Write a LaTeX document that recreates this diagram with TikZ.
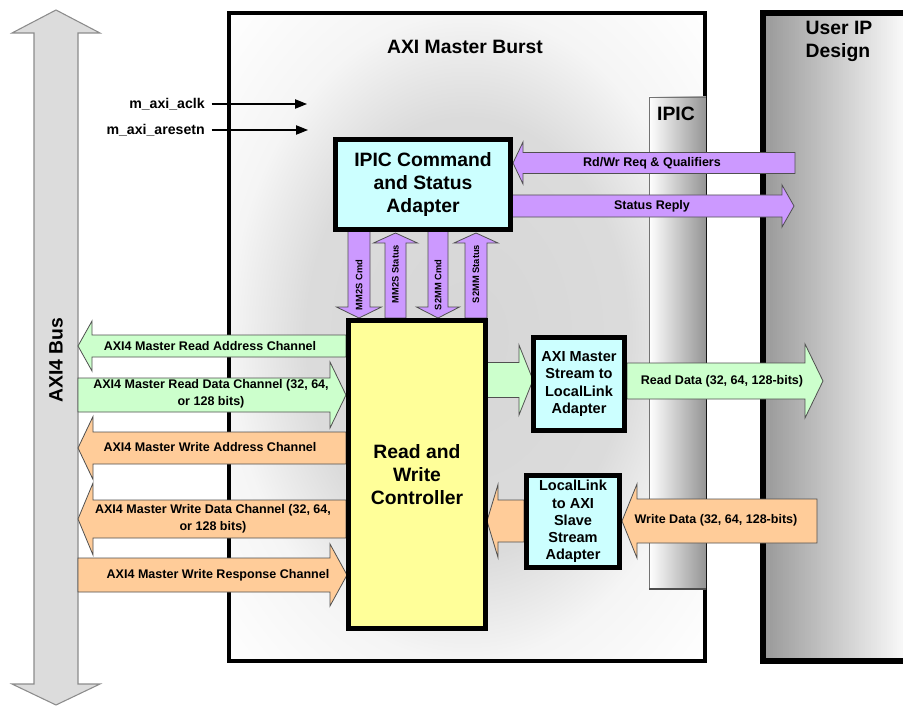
\documentclass[tikz,border=0pt]{standalone}
\usepackage{fontspec}
\setmainfont{Liberation Sans}
\usetikzlibrary{arrows.meta}

\definecolor{cyanbox}{HTML}{CCFFFF}
\definecolor{yelbox}{HTML}{FFFF99}
\definecolor{grn}{HTML}{CCFFCC}
\definecolor{org}{HTML}{FFCC99}
\definecolor{purp}{HTML}{CC99FF}
\definecolor{busgray}{HTML}{DCDCDC}
\definecolor{edgegray}{HTML}{505050}

\pgfdeclareradialshading{burstshade}{\pgfpoint{0bp}{0bp}}{color(0bp)=(black!16); color(17bp)=(black!14); color(25bp)=(black!4); color(36bp)=(white); color(50bp)=(white)}

% horizontal fat arrow: #1 fill, #2 tail x, #3 tip x, #4 y, #5 shaft half, #6 head half, #7 signed head length
\newcommand\fatH[7]{%
  \filldraw[fatline, fill=#1] ({#2},{#4-#5}) -- ({#3-(#7)},{#4-#5}) -- ({#3-(#7)},{#4-#6}) -- ({#3},{#4})
    -- ({#3-(#7)},{#4+#6}) -- ({#3-(#7)},{#4+#5}) -- ({#2},{#4+#5}) -- cycle;}
% vertical fat arrow: #1 fill, #2 x, #3 tail y, #4 tip y, #5 shaft half, #6 head half, #7 signed head length
\newcommand\fatV[7]{%
  \filldraw[fatline, fill=#1] ({#2-#5},{#3}) -- ({#2-#5},{#4-(#7)}) -- ({#2-#6},{#4-(#7)}) -- ({#2},{#4})
    -- ({#2+#6},{#4-(#7)}) -- ({#2+#5},{#4-(#7)}) -- ({#2+#5},{#3}) -- cycle;}

\tikzset{
  fatline/.style={draw=edgegray, line width=0.6pt, line join=miter},
  boxborder/.style={draw=black, line width=3.4pt},
  cbox/.style={boxborder, fill=cyanbox, align=center, inner sep=0pt, font=\bfseries\fontsize{10.9}{12.9}\selectfont},
  bigtxt/.style={font=\bfseries\fontsize{14.5}{17.25}\selectfont, align=center},
  arrowtxt/.style={font=\bfseries\fontsize{9.4}{12.8}\selectfont, align=center, inner sep=0pt},
  vtxt/.style={font=\bfseries\fontsize{7}{8}\selectfont, rotate=90, inner sep=0pt},
  sigtxt/.style={font=\bfseries\fontsize{10.6}{12}\selectfont, anchor=east, inner sep=0pt},
  sigarrow/.style={line width=0.9pt, -{Triangle[length=9pt,width=7pt]}}
}

\begin{document}
\begin{tikzpicture}[x=0.75pt, y=-0.75pt]
\fill[white] (0,0) rectangle (903,706);
\useasboundingbox (0,0) rectangle (903,706);

% AXI Master Burst container
\shade[shading=burstshade] (229,13) rectangle (705,661);
\draw[line width=3pt] (229,13) rectangle (705,661);
\node[bigtxt] (burst) at (465,47) {AXI Master Burst};

% IPIC strip
\shade[left color=white, right color=black!42] (649,97) rectangle (706,589);
\draw[draw=black!55, line width=0.6pt] (649,589) -- (649,97) -- (706,97);
\draw[draw=black!70, line width=0.8pt] (649,589) -- (706,589);
\node[bigtxt] (ipic) at (676,114) {IPIC};

% User IP Design (gradient as stripes)
\foreach \i in {0,...,69} {
  \pgfmathsetmacro\pc{40-37*\i/69}
  \fill[black!\pc] ({763+2*\i},13) rectangle ({765.5+2*\i},661);
}
\draw[line width=4.5pt] (902.5,13) -- (763,13) -- (763,661) -- (902.5,661);
\node[bigtxt, align=left, anchor=west] (userip) at (801,41) {User IP\\Design};

% AXI4 Bus double arrow
\filldraw[fill=busgray, draw=black!45, line width=0.8pt]
  (56,10) -- (100,33) -- (78,33) -- (78,684) -- (100,684) -- (56,705) -- (12,684) -- (34,684) -- (34,33) -- (12,33) -- cycle;
\node[bigtxt, rotate=90] (bus) at (56,360) {AXI4 Bus};

% clock / reset
\node[sigtxt] (aclk) at (205,104) {m\_axi\_aclk};
\node[sigtxt] (aresetn) at (205,130) {m\_axi\_aresetn};
\coordinate (aclkend) at (307,104);
\coordinate (aresetnend) at (308,130);
\draw[sigarrow] ([xshift=5pt]aclk.east) -- (aclkend);
\draw[sigarrow] ([xshift=5pt]aresetn.east) -- (aresetnend);

% purple arrows to/from User IP
\fatH{purp}{795}{513}{163}{10.5}{21}{-10}
\fatH{purp}{510}{794}{206}{11}{21}{12}

% vertical purple arrows
\fatV{purp}{359}{230}{318}{11}{22.5}{11}
\fatV{purp}{395.5}{318}{233}{10.5}{22}{-10}
\fatV{purp}{438}{230}{318}{10}{21.5}{11}
\fatV{purp}{476}{318}{233}{11}{22}{-10}

% left channel arrows
\fatH{grn}{346}{78}{346}{11}{25}{-14}
\fatH{grn}{78}{346}{395}{17}{33}{16}
\fatH{org}{346}{78}{448}{16}{31.5}{-15}
\fatH{org}{346}{78}{519}{19}{36}{-15}
\fatH{org}{78}{347}{575}{17}{31}{17}

% right data arrows
\fatH{grn}{487}{533}{380}{17.5}{35}{14}
\fatH{grn}{627}{823}{381}{18}{37}{18}
\fatH{org}{524}{487}{521}{21}{36.5}{-11}
\fatH{org}{817}{622}{521}{22}{37}{-15}

% boxes
\node[cbox, bigtxt, minimum width=131.25pt, minimum height=67.5pt] (ipicadapt) at (423,184.5) {IPIC Command\\and Status\\Adapter};
\node[boxborder, fill=yelbox, bigtxt, minimum width=102.75pt, minimum height=231pt] (ctrl) at (417,474.5) {Read and\\Write\\Controller};
\node[cbox, minimum width=68.25pt, minimum height=69.75pt] (s2ll) at (579,384) {AXI Master\\Stream to\\LocalLink\\Adapter};
\node[cbox, minimum width=69.75pt, minimum height=69pt] (ll2s) at (573,521.5) {LocalLink\\to AXI\\Slave\\Stream\\Adapter};

% arrow labels
\node[arrowtxt] (rdwr) at (652,163) {Rd/Wr Req \& Qualifiers};
\node[arrowtxt] (streply) at (652,206) {Status Reply};
\node[vtxt] (mm2scmd) at (359,285) {MM2S Cmd};
\node[vtxt] (mm2sst) at (395.5,274) {MM2S Status};
\node[vtxt] (s2mmcmd) at (438,285) {S2MM Cmd};
\node[vtxt] (s2mmst) at (476,274) {S2MM Status};

\node[arrowtxt] (rdaddr) at (210,346) {AXI4 Master Read Address Channel};
\node[arrowtxt] (rddata) at (211,394) {AXI4 Master Read Data Channel (32, 64,\\or 128 bits)};
\node[arrowtxt] (wraddr) at (210,447) {AXI4 Master Write Address Channel};
\node[arrowtxt] (wrdata) at (213,519) {AXI4 Master Write Data Channel (32, 64,\\or 128 bits)};
\node[arrowtxt] (wrresp) at (218,575) {AXI4 Master Write Response Channel};

\node[arrowtxt] (rdout) at (722,381) {Read Data (32, 64, 128-bits)};
\node[arrowtxt] (wrin) at (716,520) {Write Data (32, 64, 128-bits)};
\end{tikzpicture}
\end{document}
